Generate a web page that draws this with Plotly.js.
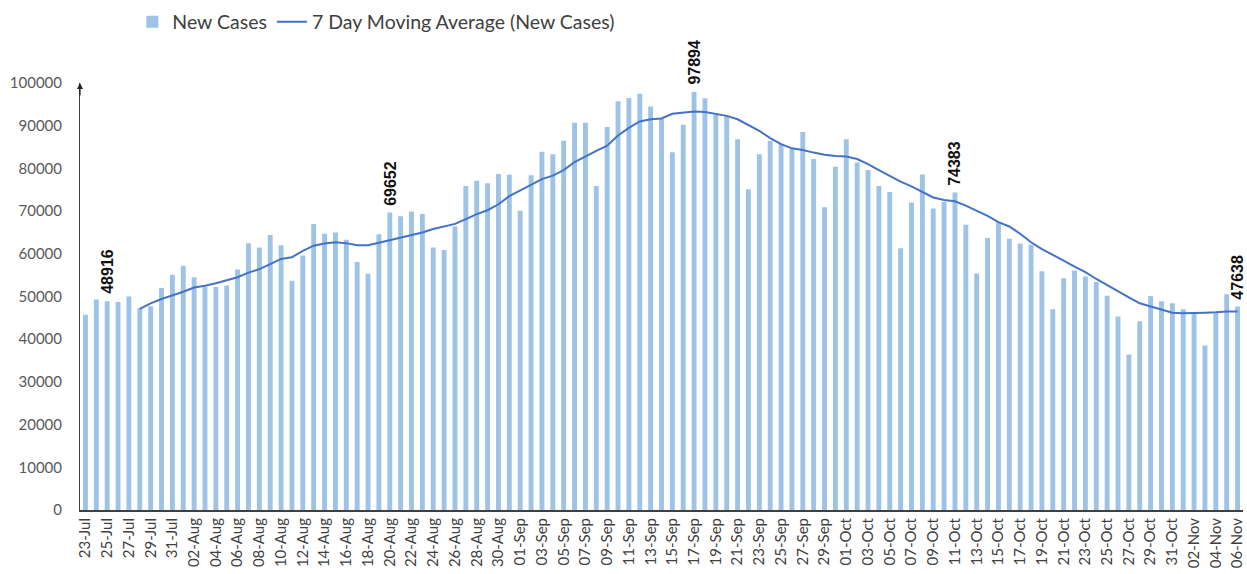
<!DOCTYPE html>
<html>
<head>
<meta charset="utf-8">
<script src="https://cdn.plot.ly/plotly-3.0.1.min.js"></script>
<style>
html,body{margin:0;padding:0;background:#fff;}
#chart{width:1247px;height:574px;}
</style>
</head>
<body>
<div id="chart"></div>
<script>
const dates = [
"23-Jul","24-Jul","25-Jul","26-Jul","27-Jul","28-Jul","29-Jul","30-Jul","31-Jul",
"01-Aug","02-Aug","03-Aug","04-Aug","05-Aug","06-Aug","07-Aug","08-Aug","09-Aug","10-Aug",
"11-Aug","12-Aug","13-Aug","14-Aug","15-Aug","16-Aug","17-Aug","18-Aug","19-Aug","20-Aug",
"21-Aug","22-Aug","23-Aug","24-Aug","25-Aug","26-Aug","27-Aug","28-Aug","29-Aug","30-Aug","31-Aug",
"01-Sep","02-Sep","03-Sep","04-Sep","05-Sep","06-Sep","07-Sep","08-Sep","09-Sep","10-Sep",
"11-Sep","12-Sep","13-Sep","14-Sep","15-Sep","16-Sep","17-Sep","18-Sep","19-Sep","20-Sep",
"21-Sep","22-Sep","23-Sep","24-Sep","25-Sep","26-Sep","27-Sep","28-Sep","29-Sep","30-Sep",
"01-Oct","02-Oct","03-Oct","04-Oct","05-Oct","06-Oct","07-Oct","08-Oct","09-Oct","10-Oct",
"11-Oct","12-Oct","13-Oct","14-Oct","15-Oct","16-Oct","17-Oct","18-Oct","19-Oct","20-Oct",
"21-Oct","22-Oct","23-Oct","24-Oct","25-Oct","26-Oct","27-Oct","28-Oct","29-Oct","30-Oct","31-Oct",
"01-Nov","02-Nov","03-Nov","04-Nov","05-Nov","06-Nov"
];

const newCases = [
45700,49300,48916,48700,50000,47300,47700,52000,55100,
57200,54500,52200,52200,52600,56300,62500,61500,64400,62000,
53700,59600,67000,64700,65000,63300,58100,55300,64600,69652,
68800,69900,69300,61500,60900,66400,75900,77100,76500,78700,78500,
70100,78400,83900,83300,86500,90700,90700,75900,89700,95700,
96500,97500,94500,91700,83800,90200,97894,96400,92500,92300,
86800,75100,83300,86400,85800,84600,88500,82200,70900,80400,
86800,81400,79600,75900,74500,61300,72000,78600,70600,72200,
74383,66800,55400,63700,67400,63500,62400,62100,55900,47000,
54300,56100,54700,53400,50200,45300,36400,44200,50100,48900,48400,
47000,46000,38500,46100,50500,47638
];

const movingAvg = [
null,null,null,null,null,47100,48400,49400,50200,
51100,52100,52500,53100,53800,54500,55600,56400,57600,58800,
59200,60700,61900,62400,62700,62500,62000,62000,62600,63200,
63900,64500,65000,65800,66400,67000,68100,69300,70200,71600,73500,
74800,76300,77500,78300,79600,81500,82900,84100,85300,87700,
89500,91000,91500,91700,92800,93100,93300,93200,92700,92300,
91500,90200,88800,87100,85700,84700,84300,83700,83200,82900,
82800,82200,81000,79600,78300,76900,75800,74500,73200,72600,
72300,71300,70100,68900,67400,66400,64700,62700,61100,59800,
58400,57000,55700,54100,52600,51200,49800,48400,47700,46900,46200,
46100,46100,46200,46300,46500,46500
];

const labelledDates = ["25-Jul","20-Aug","17-Sep","11-Oct","06-Nov"];
const yTicks = [0,10000,20000,30000,40000,50000,60000,70000,80000,90000,100000];

const tickDates = dates.filter((d,i)=> i % 2 === 0);

const barTrace = {
  type: 'bar', x: dates, y: newCases, name: 'New Cases',
  marker: {color: '#9DC3E6'}, hoverinfo: 'x+y'
};
const lineTrace = {
  type: 'scatter', mode: 'lines', x: dates, y: movingAvg,
  name: '7 Day Moving Average (New Cases)',
  line: {color: '#4472C4', width: 2}, connectgaps: false
};

const annotations = labelledDates.map(d => {
  const i = dates.indexOf(d);
  return {
    x: d, y: newCases[i], xref: 'x', yref: 'y',
    text: String(newCases[i]), textangle: -90,
    showarrow: false, yanchor: 'bottom', xanchor: 'center', yshift: 5,
    font: {family: 'Liberation Sans, Arial, sans-serif', size: 16, color: '#111', weight: 'bold'}
  };
});
annotations.push({
  xref: 'paper', yref: 'paper', x: 0, y: 1, ax: 0, ay: 14,
  axref: 'pixel', ayref: 'pixel', text: '', showarrow: true,
  arrowhead: 2, arrowsize: 1, arrowwidth: 1.2, arrowcolor: '#222'
});

const layout = {
  width: 1247, height: 574,
  margin: {l: 80, r: 4, t: 82, b: 64},
  paper_bgcolor: '#fff', plot_bgcolor: '#fff',
  bargap: 0.55,
  showlegend: true,
  legend: {
    orientation: 'h', x: 0.045, y: 1.14, xanchor: 'left', yanchor: 'middle',
    font: {family: 'Lato, sans-serif', size: 19.5, color: '#404040'},
    itemwidth: 30, tracegroupgap: 0
  },
  font: {family: 'Lato, sans-serif', color: '#404040'},
  xaxis: {
    type: 'category', range: [-0.5, dates.length - 0.5],
    tickmode: 'array', tickvals: tickDates, ticktext: tickDates,
    tickangle: -90, tickfont: {family: 'Lato, sans-serif', size: 15, color: '#404040'},
    showgrid: false, zeroline: false, ticks: '',
    showline: true, linecolor: '#404040', linewidth: 2
  },
  yaxis: {
    range: [0, 100000], tickmode: 'array', tickvals: yTicks,
    ticktext: yTicks.map(String),
    tickfont: {family: 'Lato, sans-serif', size: 15, color: '#595959'},
    showgrid: false, zeroline: false, ticks: '',
    showline: true, linecolor: '#404040', linewidth: 1, ticklabelstandoff: 14
  },
  annotations: annotations
};

Plotly.newPlot('chart', [barTrace, lineTrace], layout, {displayModeBar: false, staticPlot: true});
</script>
</body>
</html>
